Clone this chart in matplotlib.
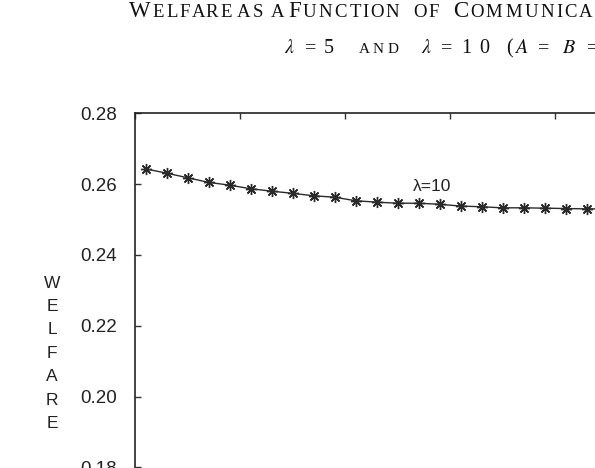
import numpy as np
import matplotlib
matplotlib.use('Agg')
import matplotlib.pyplot as plt

# communication level (position along x) and welfare for lambda = 10
comm = [0.5, 1.5, 2.5, 3.5, 4.5, 5.5, 6.5, 7.5, 8.5, 9.5, 10.5, 11.5,
        12.5, 13.5, 14.5, 15.5, 16.5, 17.5, 18.5, 19.5, 20.5, 21.5, 22.5]
welfare_l10 = [0.2643, 0.2631, 0.2618, 0.2605, 0.2597, 0.2587, 0.2580,
               0.2574, 0.2567, 0.2563, 0.2553, 0.2549, 0.2546, 0.2546,
               0.2543, 0.2538, 0.2536, 0.2533, 0.2533, 0.2532, 0.2531,
               0.2530, 0.2530]
yticks = [0.16, 0.18, 0.20, 0.22, 0.24, 0.26, 0.28]
ylabel = 'WELFARE'

# title line 1 in small caps: (big initial, rest, left x in px)
title1 = [('W', 'ELFARE', 129), ('', 'AS', 237), ('', 'A', 271),
          ('F', 'UNCTION', 288), ('', 'OF', 413), ('C', 'OMMUNICATION', 453)]
# title line 2 tokens: (text, size, left x in px)
title2 = [(r'$\lambda$', 14.5, 284), ('=', 14.5, 305), ('5', 14.5, 324),
          ('A', 11, 359), ('N', 11, 373), ('D', 11, 388),
          (r'$\lambda$', 14.5, 421), ('=', 14.5, 441), ('1', 14.5, 461),
          ('0', 14.5, 479), ('(', 14.5, 506), (r'$A$', 14.5, 514),
          ('=', 14.5, 538), (r'$B$', 14.5, 562), ('=', 14.5, 587)]

W, H = 595, 468
fig = plt.figure(figsize=(W / 100, H / 100), dpi=100)
# axes runs off the right and bottom edges of the picture
ax = fig.add_axes([135 / W, -70.1 / H, 630 / W, 424.8 / H])

ax.plot(comm, welfare_l10, color='#2a2a2a', lw=1.0,
        marker=(8, 2, 0), markersize=8, markeredgewidth=1.0,
        markeredgecolor='#2a2a2a')
ax.text(13.24, 0.2581, 'λ=10', fontsize=12.5, family='Liberation Sans',
        va='baseline', ha='left', color='#222')

ax.set_xlim(0, 30)
ax.set_ylim(0.16, 0.28)
ax.set_xticks(np.arange(0, 31, 5))
ax.set_yticks(yticks)
ax.set_yticklabels(['%.2f' % v for v in yticks])
ax.tick_params(direction='in', length=4.5, width=1.0, color='#333',
               top=True, right=True, labeltop=False, labelbottom=False,
               labelsize=13.5, pad=13)
for lab in ax.get_yticklabels():
    lab.set_family('Liberation Sans')
    lab.set_color('#222')
for sp in ax.spines.values():
    sp.set_linewidth(1.2)
    sp.set_color('#222')

# stacked y label
for i, ch in enumerate(ylabel):
    fig.text(52 / W, 1 - (287.7 + 23.4 * i) / H, ch, fontsize=12.5,
             family='Liberation Sans', ha='center', va='baseline', color='#222')

renderer = fig.canvas.get_renderer()


def put(x_px, y_px, s, size):
    t = fig.text(x_px / W, 1 - y_px / H, s, fontsize=size,
                 family='Liberation Serif', math_fontfamily='stix',
                 ha='left', va='baseline', color='#111')
    return t


def width(s, size):
    t = put(0, 0, s, size)
    w = t.get_window_extent(renderer).width
    t.remove()
    return w


# title line 1, letters spread a little (the original title is stretched)
big, small, stretch = 16.5, 13.5, 1.17
for initial, rest, x0 in title1:
    x = x0
    if initial:
        put(x, 17.3, initial, big)
        x += width(initial, big) + 2
    for i, ch in enumerate(rest):
        put(x + stretch * width(rest[:i], small) if i else x, 17.3, ch, small)

# title line 2
for s, size, x in title2:
    put(x, 53, s, size)

fig.savefig('out.png', dpi=100)
